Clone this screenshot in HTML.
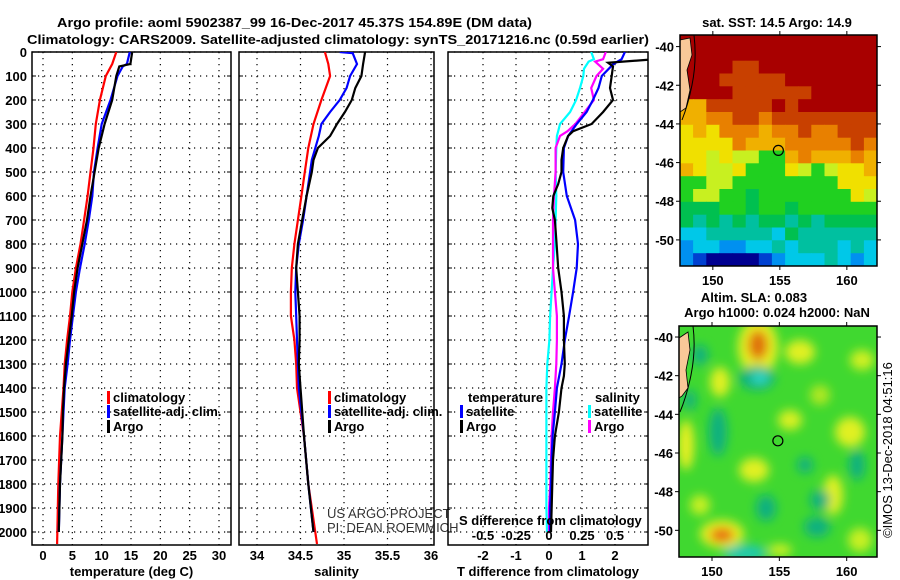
<!DOCTYPE html>
<html><head><meta charset="utf-8"><style>
html,body{margin:0;padding:0;background:#fff;}
svg{display:block;font-family:"Liberation Sans",Arial,sans-serif;}
.b{font-weight:bold;font-size:13px;}
.lbl{font-weight:bold;font-size:13px;}
</style></head><body>
<svg id="chart" width="900" height="580" viewBox="0 0 900 580" xmlns="http://www.w3.org/2000/svg">
<defs>
<clipPath id="c1"><rect x="32" y="52" width="199" height="493"/></clipPath>
<clipPath id="c2"><rect x="239" y="52" width="195" height="493"/></clipPath>
<clipPath id="c3"><rect x="448" y="52" width="200" height="493"/></clipPath>
<clipPath id="cm1"><rect x="680" y="35" width="197" height="231"/></clipPath>
<clipPath id="cm2"><rect x="679" y="326" width="198" height="231"/></clipPath>
<filter id="blur" x="-50%" y="-50%" width="200%" height="200%"><feGaussianBlur stdDeviation="5"/></filter>
</defs>
<rect width="900" height="580" fill="#fff"/>
<text class="b" x="57" y="27" font-size="14" textLength="475" lengthAdjust="spacingAndGlyphs">Argo profile: aoml 5902387_99 16-Dec-2017 45.37S 154.89E (DM data)</text>
<text class="b" x="27" y="44" font-size="14" textLength="622" lengthAdjust="spacingAndGlyphs">Climatology: CARS2009. Satellite-adjusted climatology: synTS_20171216.nc (0.59d earlier)</text>
<g id="panels"></g>
<g id="maps"></g>
</svg>
<script>
// ---------- profile data ----------
const depthT = [0,50,60,100,200,300,400,500,600,700,800,900,1000,1100,1200,1300,1400,1500,1600,1700,1800,1900,2000];
const tArgo  = [15.2,14.9,13.0,12.5,11.8,10.5,9.5,8.8,8.1,7.5,6.7,5.9,5.3,4.9,4.4,3.9,3.6,3.4,3.3,3.1,2.9,2.8,2.7];
const tSat   = [14.8,14.3,13.6,12.7,11.5,10.0,9.3,8.7,8.4,7.8,7.1,6.3,5.6,5.1,4.6,4.2,3.7,3.5,3.3,3.1,2.9,2.8,2.7];
const depthC = [0,50,100,200,300,400,500,600,700,800,900,1000,1100,1200,1300,1400,1600,1800,2050];
const tClim  = [12.5,11.8,10.7,9.7,9.0,8.6,8.1,7.6,7.0,6.4,5.6,5.0,4.6,4.1,3.7,3.5,2.9,2.6,2.4];
const sClim  = [34.78,34.82,34.84,34.74,34.65,34.59,34.55,34.51,34.47,34.43,34.40,34.39,34.39,34.43,34.45,34.46,34.54,34.59,34.69];
const depthS = [0,5,50,100,150,200,250,300,350,400,450,500,600,700,800,900,1000,1100,1200,1300,1400,1600,1800,2000];
const sSat   = [34.95,35.10,35.15,35.07,35.03,34.95,34.84,34.74,34.71,34.67,34.63,34.61,34.57,34.53,34.48,34.45,34.44,34.45,34.46,34.47,34.48,34.54,34.59,34.65];
const sArgo  = [35.24,35.24,35.22,35.20,35.13,35.09,35.01,34.92,34.84,34.70,34.65,34.63,34.57,34.52,34.47,34.45,34.47,34.49,34.49,34.48,34.50,34.54,34.59,34.65];
// differences
const depthD = [0,30,50,100,150,200,250,300,350,400,500,600,700,800,900,1000,1100,1200,1300,1400,1500,1600,1700,1800,1900,2000];
const dTsat  = [2.3,2.2,1.95,1.6,1.5,1.33,1.14,0.84,0.58,0.45,0.43,0.54,0.79,0.88,0.84,0.73,0.61,0.48,0.38,0.24,0.18,0.11,0.08,0.06,0.03,0.03];
const depthDA= [0,30,45,60,100,150,200,250,300,330,350,400,450,500,550,600,650,700,800,900,1000,1100,1200,1300,1350,1400,1500,1600,1700,1800,2000];
const dTargo = [3.5,3.2,1.79,1.94,1.9,1.85,1.94,1.64,1.29,0.73,0.58,0.43,0.38,0.38,0.28,0.13,0.10,0.18,0.23,0.28,0.38,0.45,0.45,0.48,0.45,0.38,0.30,0.18,0.12,0.10,0.06];
const depthDS= [0,30,40,70,100,150,200,250,300,330,350,400,500,600,700,800,900,1000,1100,1200,1300,1400,1500,1600,1700,1800,1900,2000];
const dSsat  = [0.32,0.34,0.30,0.265,0.26,0.235,0.205,0.16,0.083,0.07,0.06,0.055,0.05,0.055,0.05,0.045,0.03,0.02,0.008,0.003,-0.013,-0.02,-0.02,-0.02,-0.02,-0.02,-0.02,-0.015];
const dSargo = [0.43,0.41,0.35,0.41,0.36,0.32,0.34,0.27,0.20,0.14,0.083,0.05,0.05,0.038,0.03,0.03,0.03,0.045,0.06,0.06,0.055,0.045,0.03,0.02,0.015,0.01,0.0,0.0];
const depthTicks = [0,100,200,300,400,500,600,700,800,900,1000,1100,1200,1300,1400,1500,1600,1700,1800,1900,2000];
const tTicks = [0,5,10,15,20,25,30];
const sTicks = [34,34.5,35,35.5,36];
const dTTicks = [-2,-1,0,1,2];
const dSTicks = [-0.5,-0.25,0,0.25,0.5];

const NS='http://www.w3.org/2000/svg';
function mk(tag, attrs, parent){const e=document.createElementNS(NS,tag);for(const k in attrs)e.setAttribute(k,attrs[k]);parent.appendChild(e);return e;}
const yD = d => 52 + d*0.24;
const xT = v => 43 + v*5.867;
const xS = v => 257 + (v-34)*87;
const xDT = v => 549 + v*33;
const xDS = v => 549 + v*132;
const G = document.getElementById('panels');

function panel(name,x0,x1,ticks,xf,tickFmt,title,showDepth){
  const g=mk('g',{},G);
  
  
  // grid
  ticks.forEach(t=>{mk('line',{x1:xf(t),x2:xf(t),y1:52,y2:545,stroke:'#000','stroke-width':1.2,'stroke-dasharray':'1.2 4.8'},g);});
  depthTicks.forEach(d=>{mk('line',{x1:x0,x2:x1,y1:yD(d),y2:yD(d),stroke:'#000','stroke-width':1.2,'stroke-dasharray':'1.2 4.8'},g);
    mk('line',{x1:x0,x2:x0+4,y1:yD(d),y2:yD(d),stroke:'#000','stroke-width':1},g);
    mk('line',{x1:x1-4,x2:x1,y1:yD(d),y2:yD(d),stroke:'#000','stroke-width':1},g);
    if(showDepth){const t=mk('text',{x:27,y:yD(d)+5,'text-anchor':'end',class:'lbl'},g);t.textContent=d;
      
      }
  });
  mk('rect',{x:x0,y:52,width:x1-x0,height:493,fill:'none',stroke:'#000','stroke-width':1.5},g);
  if(tickFmt){ticks.forEach(t=>{const e=mk('text',{x:xf(t),y:560,'text-anchor':'middle',class:'lbl'},g);e.textContent=tickFmt(t);
    
    });}
  const tt=mk('text',{x:(x0+x1)/2,y:576,'text-anchor':'middle',class:'lbl'},g);tt.textContent=title;
  
  
  return g;
}
function series(g,clip,depths,vals,xf,color,name){
  const pts=depths.map((d,i)=>xf(vals[i]).toFixed(1)+','+yD(d).toFixed(1)).join(' ');
  const p=mk('polyline',{points:pts,fill:'none',stroke:color,'stroke-width':2.2,'clip-path':'url(#'+clip+')','stroke-linejoin':'miter'},g);
  
  
}
function legend(g,x,y,color,label,name){
  if(color){mk('rect',{x:x,y:y-11,width:3,height:13,fill:color},g);}
  const t=mk('text',{x:x+6,y:y,class:'lbl'},g);t.textContent=label;
  
  
}
const p1=panel('temperature-panel',32,231,tTicks,xT,t=>t,'temperature (deg C)',true);
series(p1,'c1',depthC,tClim,xT,'#ff0000','temp-climatology-line');
series(p1,'c1',depthT,tSat,xT,'#0000ff','temp-satellite-line');
series(p1,'c1',depthT,tArgo,xT,'#000000','temp-argo-line');
legend(p1,107,402,'#ff0000','climatology','legend-climatology');
legend(p1,107,416,'#0000ff','satellite-adj. clim.','legend-satellite');
legend(p1,107,431,'#000000','Argo','legend-argo');

const p2=panel('salinity-panel',239,434,sTicks,xS,t=>t,'salinity',false);
series(p2,'c2',depthC,sClim,xS,'#ff0000','sal-climatology-line');
series(p2,'c2',depthS,sSat,xS,'#0000ff','sal-satellite-line');
series(p2,'c2',depthS,sArgo,xS,'#000000','sal-argo-line');
legend(p2,328,402,'#ff0000','climatology','legend-climatology');
legend(p2,328,416,'#0000ff','satellite-adj. clim.','legend-satellite');
legend(p2,328,431,'#000000','Argo','legend-argo');
[['US ARGO PROJECT',518],['PI: DEAN ROEMMICH',532]].forEach(a=>{const t=mk('text',{x:327,y:a[1],'font-size':13,fill:'#333'},p2);t.textContent=a[0];
  
  });

const p3=panel('difference-panel',448,648,dTTicks,xDT,t=>t,'T difference from climatology',false);
series(p3,'c3',depthDS,dSsat,xDS,'#00ffff','s-diff-satellite-line');
series(p3,'c3',depthDS,dSargo,xDS,'#ff00ff','s-diff-argo-line');
series(p3,'c3',depthD,dTsat,xDT,'#0000ff','t-diff-satellite-line');
series(p3,'c3',depthDA,dTargo,xDT,'#000000','t-diff-argo-line');
legend(p3,462,402,null,'temperature','legend-temperature-header');
legend(p3,460,416,'#0000ff','satellite','legend-t-satellite');
legend(p3,460,431,'#000000','Argo','legend-t-argo');
legend(p3,589,402,null,'salinity','legend-salinity-header');
legend(p3,588,416,'#00ffff','satellite','legend-s-satellite');
legend(p3,588,431,'#ff00ff','Argo','legend-s-argo');
{const t=mk('text',{x:459,y:525,class:'lbl'},p3);t.textContent='S difference from climatology';
 
 
 dSTicks.forEach(v=>{const e=mk('text',{x:xDS(v),y:540,'text-anchor':'middle',class:'lbl'},p3);e.textContent=v;
  
  });}

// ---------- maps ----------
const M=document.getElementById('maps');
const lonTicks=[150,155,160];
const latTicks=[-40,-42,-44,-46,-48,-50];
const pal={R:'#a80000',r:'#c84000',O:'#e88000',o:'#f0b000',Y:'#f0e000',y:'#c8f020',G:'#20d020',g:'#00c050',t:'#00c0a0',c:'#00c8e8',b:'#0090f0',B:'#0040d0',N:'#000090'};
const sstRows=[
'RRRRRRRRRRRRRRR','RRRRRRRRRRRRRRR','RRRRrrRRRRRRRRR','RRRrrrrrRRRRRRR','RRRRrrrrrrRRRRR',
'oorrrrrRrRRRRRR','ooOOrrOrrrrrrrr','YoYOOOoOOrOOrrr','YYYYOoooOOOOOrO','YYyYyyGGoOoooOo',
'oYyyYGGGYyGyYYo','GGyyGGGGGGGGYYY','GyyGGgGGGGGGGYy','gggGGgGGgGGGGGG','gtgtgtggtgtgggg',
'cctttttcgtttttt','bccbbcctctttctc','bBNNNNBbccctcbc'];
function mapFrame(g,x0,y0,w,h,lon0,lon1,lat0,lat1,topTicks){
  const xl=v=>x0+(v-lon0)/(lon1-lon0)*w, yl=v=>y0+(lat0-v)/(lat0-lat1)*h;
  mk('rect',{x:x0,y:y0,width:w,height:h,fill:'none',stroke:'#000','stroke-width':1.5},g);
  lonTicks.forEach(v=>{mk('line',{x1:xl(v),x2:xl(v),y1:y0+h,y2:y0+h+4,stroke:'#000'},g);
    if(topTicks)mk('line',{x1:xl(v),x2:xl(v),y1:y0-4,y2:y0,stroke:'#000'},g);
    const t=mk('text',{x:xl(v),y:y0+h+19,'text-anchor':'middle',class:'lbl','font-size':14},g);t.textContent=v;
    
    });
  latTicks.forEach(v=>{mk('line',{x1:x0-4,x2:x0,y1:yl(v),y2:yl(v),stroke:'#000'},g);
    mk('line',{x1:x0+w,x2:x0+w+4,y1:yl(v),y2:yl(v),stroke:'#000'},g);
    const t=mk('text',{x:x0-6,y:yl(v)+5,'text-anchor':'end',class:'lbl','font-size':14},g);t.textContent=v;
    
    });
  return {xl,yl};
}
// SST map
const m1=mk('g',{},M);


{const g=mk('g',{'clip-path':'url(#cm1)'},m1);
 const cw=197/15,ch=231/18;
 sstRows.forEach((row,i)=>{[...row].forEach((c,j)=>{mk('rect',{x:(680+j*cw).toFixed(1),y:(35+i*ch).toFixed(1),width:(cw+0.6).toFixed(1),height:(ch+0.6).toFixed(1),fill:pal[c]},g);});});
 mk('path',{d:'M680,40 L690,38 L692,55 L687,70 L690,90 L686,108 L680,112 Z',fill:'#f8c898',stroke:'#000','stroke-width':0.8},g);
 mk('path',{d:'M694,35 Q697,60 692,85 Q688,105 682,120',fill:'none',stroke:'#000','stroke-width':1},g);
}
const f1=mapFrame(m1,680,35,197,231,147.55,162.25,-39.4,-51.35,true);
{const c=mk('circle',{cx:f1.xl(154.89),cy:f1.yl(-45.37),r:5,fill:'none',stroke:'#000','stroke-width':1.2},m1);
 
 
 const t=mk('text',{x:777,y:27,'text-anchor':'middle',class:'lbl'},m1);t.textContent='sat. SST: 14.5 Argo: 14.9';
 
 }
// SLA map
const m2=mk('g',{},M);


const blobs=[
['#e8f020',758,347,20,28],['#e07010',758,345,10,15],['#e8f020',722,534,22,14],['#e86010',722,535,12,7],
['#e8f020',686,445,8,25],['#e0f020',800,352,15,12],['#e0f020',720,382,10,15],['#d8f020',790,420,12,10],
['#e0f020',850,432,15,15],['#e0f020',754,470,15,12],['#e0f020',833,495,10,20],['#d0f020',862,360,12,10],
['#c8f020',700,505,10,10],['#d0f020',780,550,12,6],['#c8f020',860,540,12,12],['#b0e820',820,395,10,10],
['#10b080',757,378,18,12],['#30d8c8',760,378,9,6],['#10b080',718,432,9,24],['#10b080',766,508,10,13],
['#10b080',820,500,10,10],['#10b080',817,527,13,10],['#10b080',857,465,8,15],['#20c8b0',745,553,22,8],
['#10b080',690,400,6,10],['#10b080',805,465,8,8],['#10b080',700,355,8,10]];
{const g=mk('g',{'clip-path':'url(#cm2)'},m2);
 mk('rect',{x:679,y:326,width:198,height:231,fill:'#40d830'},g);
 const gb=mk('g',{filter:'url(#blur)'},g);
 blobs.forEach(b=>mk('ellipse',{cx:b[1],cy:b[2],rx:b[3],ry:b[4],fill:b[0]},gb));
 mk('rect',{x:679,y:326,width:198,height:231,fill:'none'},g);
 mk('path',{d:'M679,338 L688,332 L690,350 L686,370 L688,388 L682,396 L679,398 Z',fill:'#f8c898',stroke:'#000','stroke-width':0.8},g);
 mk('path',{d:'M693,326 Q696,350 691,375 Q687,395 680,412',fill:'none',stroke:'#000','stroke-width':1},g);
}
const f2=mapFrame(m2,679,326,198,231,147.55,162.25,-39.43,-51.38,true);
{const c=mk('circle',{cx:f2.xl(154.89),cy:f2.yl(-45.37),r:5,fill:'none',stroke:'#000','stroke-width':1.2},m2);
 
 
 const t1=mk('text',{x:754,y:302,'text-anchor':'middle',class:'lbl'},m2);t1.textContent='Altim. SLA: 0.083';
 
 
 const t2=mk('text',{x:777,y:317,'text-anchor':'middle',class:'lbl'},m2);t2.textContent='Argo h1000: 0.024 h2000: NaN';
 
 
 const t3=mk('text',{x:892,y:450,'text-anchor':'middle','font-size':13,transform:'rotate(-90 892 450)'},m2);t3.textContent='©IMOS 13-Dec-2018 04:51:16';
 
 }
</script>
</body></html>
